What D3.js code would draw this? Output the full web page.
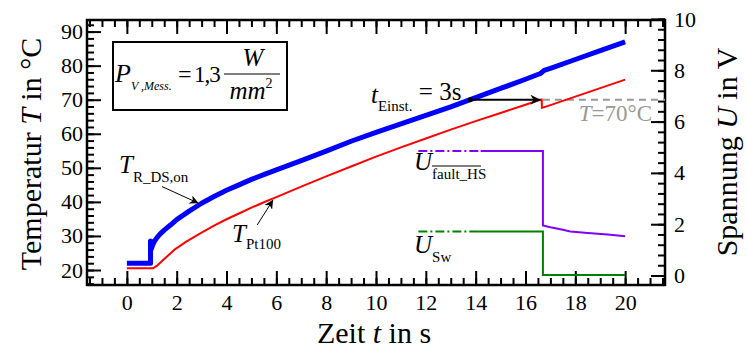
<!DOCTYPE html>
<html>
<head>
<meta charset="utf-8">
<script src="https://cdn.jsdelivr.net/npm/d3@7"></script>
<style>
body { margin: 0; background: #fff; }
text { font-family: "Liberation Serif", "Times New Roman", serif; }
</style>
</head>
<body>
<svg id="plot" width="747" height="348"></svg>
<script>
// T_R_DS,on (blue), time in s / temperature in °C
timeRds = [0, 0.95, 0.95, 0.97, 1.0, 1.05, 1.1, 1.2, 1.34, 1.5, 1.75, 2, 2.5, 3, 3.5, 4, 4.5, 5, 5.6, 6, 7, 8, 9, 10, 11, 12, 13, 13.78, 14, 15, 16, 16.6, 16.75, 17, 18, 19, 20];
tempRds = [22, 22, 28.5, 26, 26.6, 27.6, 28.4, 29.4, 30.6, 31.7, 33.2, 34.8, 37.3, 39.6, 41.6, 43.4, 45.0, 46.6, 48.3, 49.4, 52.1, 54.9, 57.8, 60.4, 62.9, 65.4, 67.9, 70.0, 70.6, 73.3, 76.0, 77.7, 78.6, 79.2, 81.8, 84.4, 87.0];

// T_Pt100 (red)
timePt = [0, 1.05, 1.2, 1.5, 1.9, 2.4, 3, 3.5, 4, 4.5, 5, 5.5, 6, 7, 8, 9, 10, 11, 12, 13, 14, 15, 16, 16.65, 16.66, 17, 18, 19, 20];
tempPt = [20.5, 20.5, 21.2, 23.2, 25.9, 28.4, 31.0, 33.0, 34.9, 36.6, 38.3, 39.9, 41.4, 44.5, 47.5, 50.4, 53.3, 56.0, 58.6, 61.2, 63.7, 66.1, 68.5, 70.1, 67.6, 68.4, 70.9, 73.4, 75.9];

// U_fault_HS (purple), voltage in V; first part dash-dot
timeFaultDash = [11.7, 14.2];
voltFaultDash = [4.85, 4.85];
timeFault = [14.2, 16.7, 16.7, 17.0, 17.5, 17.8, 18.5, 19.3, 20];
voltFault = [4.85, 4.85, 1.95, 1.88, 1.78, 1.72, 1.66, 1.60, 1.53];

// U_Sw (green)
timeSwDash = [11.7, 14.1];
voltSwDash = [1.72, 1.72];
timeSw = [14.1, 16.7, 16.7, 20];
voltSw = [1.72, 1.72, 0.02, 0.02];

// T = 70 °C limit and settling arrow
limitTemp = 70;
limitStart = 16.7;
arrowStart = 13.78;
arrowEnd = 16.6;

xTicks = [0, 2, 4, 6, 8, 10, 12, 14, 16, 18, 20];
tempTicks = [20, 30, 40, 50, 60, 70, 80, 90];
voltTicks = [0, 2, 4, 6, 8, 10];

svgWidth = 747;
svgHeight = 348;
margin = {top: 20, right: 82, bottom: 63, left: 87};

x = d3.scaleLinear().domain([-1.6, 21.6]).range([margin.left, svgWidth - margin.right]);
yT = d3.scaleLinear().domain([15.6, 93.4]).range([svgHeight - margin.bottom, margin.top]);
yU = d3.scaleLinear().domain([-0.37, 9.96]).range([svgHeight - margin.bottom, margin.top]);

const svg = d3.select("#plot");
const plotLeft = margin.left, plotRight = svgWidth - margin.right;
const plotTop = margin.top, plotBottom = svgHeight - margin.bottom;

const defs = svg.append("defs");
defs.append("marker")
    .attr("id", "head")
    .attr("viewBox", "0 0 10 10")
    .attr("refX", 10).attr("refY", 5)
    .attr("markerUnits", "userSpaceOnUse")
    .attr("markerWidth", 14).attr("markerHeight", 9)
    .attr("orient", "auto")
    .append("path").attr("d", "M0,0L10,5L0,10L3,5Z").attr("fill", "black");
defs.append("marker")
    .attr("id", "headBig")
    .attr("viewBox", "0 0 10 10")
    .attr("refX", 10).attr("refY", 5)
    .attr("markerUnits", "userSpaceOnUse")
    .attr("markerWidth", 18).attr("markerHeight", 10)
    .attr("orient", "auto")
    .append("path").attr("d", "M0,0L10,5L0,10L3,5Z").attr("fill", "black");

// axes: minor ticks first, then majors with labels
function drawAxis(gen, transform, minor, major, pad) {
    svg.append("g").attr("transform", transform)
        .call(gen.tickValues(minor).tickSizeInner(-7).tickSizeOuter(0).tickFormat(""))
        .call(g => g.select(".domain").remove())
        .selectAll("line").attr("stroke-width", 2);
    const g = svg.append("g").attr("transform", transform)
        .call(gen.tickValues(major).tickSizeInner(-14).tickSizeOuter(0).tickPadding(pad)
            .tickFormat(d3.format("d")));
    g.attr("font-family", "Liberation Serif");
    g.select(".domain").remove();
    g.selectAll("line").attr("stroke-width", 2);
    g.selectAll("text").attr("font-size", 22)
        .style("font-family", "'Liberation Serif', serif");
    return g;
}

const xMinor = d3.range(-1.5, 21.6, 0.5);
drawAxis(d3.axisBottom(x), `translate(0,${plotBottom})`, xMinor, xTicks, 9);
drawAxis(d3.axisTop(x), `translate(0,${plotTop})`, xMinor, xTicks, 0)
    .selectAll("text").remove();
drawAxis(d3.axisLeft(yT), `translate(${plotLeft},0)`, d3.range(16, 93, 2), tempTicks, 4);
drawAxis(d3.axisRight(yU), `translate(${plotRight},0)`, d3.range(0, 10.01, 0.4), voltTicks, 9);

svg.append("rect")
    .attr("x", plotLeft).attr("y", plotTop)
    .attr("width", plotRight - plotLeft).attr("height", plotBottom - plotTop)
    .attr("fill", "none").attr("stroke", "black").attr("stroke-width", 2.5);

// limit line T = 70 °C
svg.append("line")
    .attr("x1", x(limitStart)).attr("x2", plotRight)
    .attr("y1", yT(limitTemp)).attr("y2", yT(limitTemp))
    .attr("stroke", "#999").attr("stroke-width", 2)
    .attr("stroke-dasharray", "7,5");

const lineT = (ts, vs) => d3.line().x((d, i) => x(ts[i])).y(d => yT(d))(vs);
const lineU = (ts, vs) => d3.line().x((d, i) => x(ts[i])).y(d => yU(d))(vs);

svg.append("path").attr("d", lineU(timeFaultDash, voltFaultDash))
    .attr("fill", "none").attr("stroke", "#8000ff").attr("stroke-width", 2)
    .attr("stroke-dasharray", "9,3,2,3");
svg.append("path").attr("d", lineU(timeFault, voltFault))
    .attr("fill", "none").attr("stroke", "#8000ff").attr("stroke-width", 2);
svg.append("path").attr("d", lineU(timeSwDash, voltSwDash))
    .attr("fill", "none").attr("stroke", "#008000").attr("stroke-width", 2)
    .attr("stroke-dasharray", "9,3,2,3");
svg.append("path").attr("d", lineU(timeSw, voltSw))
    .attr("fill", "none").attr("stroke", "#008000").attr("stroke-width", 2);

svg.append("path").attr("d", lineT(timePt, tempPt))
    .attr("fill", "none").attr("stroke", "#ff0000").attr("stroke-width", 2)
    .attr("stroke-linejoin", "round");
svg.append("path").attr("d", lineT(timeRds, tempRds))
    .attr("fill", "none").attr("stroke", "#0000ff").attr("stroke-width", 5)
    .attr("stroke-linejoin", "round");

// settling arrow
svg.append("line")
    .attr("x1", x(arrowStart)).attr("x2", x(arrowEnd))
    .attr("y1", yT(limitTemp)).attr("y2", yT(limitTemp))
    .attr("stroke", "black").attr("stroke-width", 2)
    .attr("marker-end", "url(#headBig)");
svg.append("circle")
    .attr("cx", x(arrowStart)).attr("cy", yT(limitTemp)).attr("r", 2.5)
    .attr("fill", "black");

// label arrows
svg.append("line")
    .attr("x1", x(1.41)).attr("y1", yT(44.5))
    .attr("x2", x(2.88)).attr("y2", yT(39.6))
    .attr("stroke", "black").attr("stroke-width", 1)
    .attr("marker-end", "url(#head)");
svg.append("line")
    .attr("x1", x(5.23)).attr("y1", yT(33.2))
    .attr("x2", x(5.87)).attr("y2", yT(40.6))
    .attr("stroke", "black").attr("stroke-width", 1)
    .attr("marker-end", "url(#head)");

function label(px, py, main, sub, mainSize, subSize, dy, italicMain) {
    const t = svg.append("text").attr("x", px).attr("y", py);
    t.append("tspan").text(main).attr("font-size", mainSize)
        .attr("font-style", italicMain ? "italic" : "normal");
    t.append("tspan").text(sub).attr("font-size", subSize).attr("dy", dy);
    return t;
}

label(119, 173, "T", "R_DS,on", 25, 15, 9, true);
label(232, 242, "T", "Pt100", 25, 15, 7, true);
const te = label(371, 103, "t", "Einst.", 25, 15, 8, true);
te.append("tspan").text(" = 3s").attr("font-size", 25).attr("dy", -11);
label(414, 170, "U", "fault_HS", 25, 15, 9, true);
svg.append("line").attr("x1", 432).attr("x2", 481).attr("y1", 166).attr("y2", 166)
    .attr("stroke", "black").attr("stroke-width", 1);
label(414, 253, "U", "Sw", 25, 15, 9, true);

const lim = svg.append("text").attr("x", 652).attr("y", 121)
    .attr("text-anchor", "end").attr("fill", "#999").attr("font-size", 23);
lim.append("tspan").text("T").attr("font-style", "italic");
lim.append("tspan").text("=70°C");

// formula box
svg.append("rect")
    .attr("x", 113).attr("y", 42).attr("width", 174).attr("height", 68)
    .attr("fill", "none").attr("stroke", "black").attr("stroke-width", 2);
const pf = svg.append("text").attr("x", 115).attr("y", 82).attr("font-size", 26);
pf.append("tspan").text("P").attr("font-style", "italic");
pf.append("tspan").text("V ,Mess.").attr("font-style", "italic").attr("font-size", 12).attr("dy", 8);
svg.append("text").attr("x", 178).attr("y", 82).attr("font-size", 24).text("=");
svg.append("text").attr("x", 194).attr("y", 82).attr("font-size", 23)
    .attr("letter-spacing", -1).text("1,3");
svg.append("text").attr("x", 253).attr("y", 66).attr("text-anchor", "middle")
    .attr("font-size", 25).attr("font-style", "italic").text("W");
svg.append("line").attr("x1", 224).attr("x2", 280).attr("y1", 74).attr("y2", 74)
    .attr("stroke", "black").attr("stroke-width", 1.2);
const mm = svg.append("text").attr("x", 251).attr("y", 99).attr("text-anchor", "middle")
    .attr("font-size", 25);
mm.append("tspan").text("mm").attr("font-style", "italic");
mm.append("tspan").text("2").attr("font-size", 14).attr("dy", -11);

// axis titles
const xt = svg.append("text").attr("x", 374).attr("y", 343)
    .attr("text-anchor", "middle").attr("font-size", 30);
xt.append("tspan").text("Zeit ");
xt.append("tspan").text("t").attr("font-style", "italic");
xt.append("tspan").text(" in s");

const yt = svg.append("text").attr("transform", "translate(41,154) rotate(-90)")
    .attr("text-anchor", "middle").attr("font-size", 30);
yt.append("tspan").text("Temperatur ");
yt.append("tspan").text("T").attr("font-style", "italic");
yt.append("tspan").text(" in °C");

const yr = svg.append("text").attr("transform", "translate(737,152) rotate(-90)")
    .attr("text-anchor", "middle").attr("font-size", 30);
yr.append("tspan").text("Spannung ");
yr.append("tspan").text("U").attr("font-style", "italic");
yr.append("tspan").text(" in V");
</script>
</body>
</html>
